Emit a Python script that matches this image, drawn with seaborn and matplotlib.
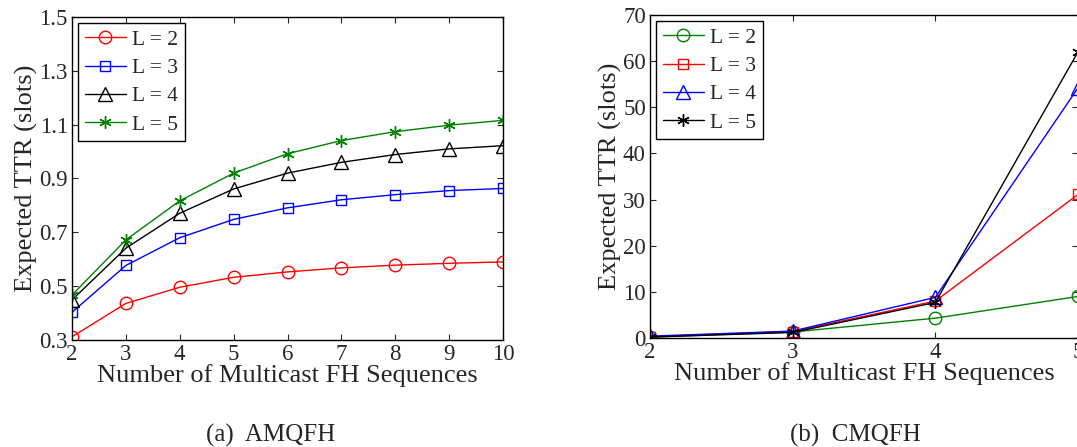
import numpy as np
import pandas as pd
import matplotlib
matplotlib.use("Agg")
import matplotlib.pyplot as plt
import seaborn as sns

# ---- data ----
x_a = [2, 3, 4, 5, 6, 7, 8, 9, 10]
a_L2 = [0.312, 0.436, 0.496, 0.533, 0.553, 0.568, 0.578, 0.585, 0.590]
a_L3 = [0.403, 0.577, 0.680, 0.748, 0.791, 0.821, 0.840, 0.855, 0.863]
a_L4 = [0.449, 0.641, 0.771, 0.861, 0.920, 0.960, 0.989, 1.010, 1.022]
a_L5 = [0.467, 0.672, 0.817, 0.920, 0.992, 1.041, 1.074, 1.098, 1.116]

x_b = [2, 3, 4, 5]
b_L2 = [0.2, 1.3, 4.3, 9.0]
b_L3 = [0.3, 1.4, 8.0, 31.1]
b_L4 = [0.4, 1.5, 8.8, 54.2]
b_L5 = [0.2, 1.2, 7.7, 62.0]

labels = ["L = 2", "L = 3", "L = 4", "L = 5"]
a_yticks = [0.3, 0.5, 0.7, 0.9, 1.1, 1.3, 1.5]
b_yticks = [0, 10, 20, 30, 40, 50, 60, 70]
xlabel = "Number of Multicast FH Sequences"
ylabel = "Expected TTR (slots)"
captions = ["(a)  AMQFH", "(b)  CMQFH"]

sns.set_style("ticks")
plt.rcParams['font.family'] = ['Liberation Serif', 'DejaVu Serif']
plt.rcParams['mathtext.fontset'] = 'stix'

fig = plt.figure(figsize=(10.77, 4.47), dpi=100)
ax1 = fig.add_axes([72/1077, 1-340/447, (503-72)/1077, (340-17)/447])
ax2 = fig.add_axes([650/1077, 1-338/447, (1078-650)/1077, (338-15)/447])

red, blue, black, green = (1, 0, 0), (0, 0, 1), (0, 0, 0), (0, 0.5, 0)
ast = (6, 2, 0)

def draw(ax, x, series, colors, markers, sizes):
    for ys, lab, c, m, s in zip(series, labels, colors, markers, sizes):
        df = pd.DataFrame({"x": x, "y": ys})
        sns.lineplot(data=df, x="x", y="y", ax=ax, color=c, marker=m,
                     markersize=s, mfc='none', mec=c, mew=1.0, lw=1.0,
                     label=lab)

draw(ax1, x_a, [a_L2, a_L3, a_L4, a_L5], [red, blue, black, green],
     ['o', 's', '^', ast], [9, 7, 10, 9])
draw(ax2, x_b, [b_L2, b_L3, b_L4, b_L5], [green, red, blue, black],
     ['o', 's', '^', ast], [9, 7, 10, 9])

ax1.set_xlim(2, 10)
ax1.set_ylim(0.3, 1.5)
ax1.set_xticks(x_a)
ax1.set_yticks(a_yticks)
ax1.set_yticklabels([f"{v:.1f}" for v in a_yticks])
ax2.set_xlim(2, 5)
ax2.set_ylim(0, 70)
ax2.set_xticks(x_b)
ax2.set_yticks(b_yticks)

for ax in (ax1, ax2):
    ax.tick_params(direction='in', top=True, right=True, length=4, width=0.8,
                   labelsize=16.5, pad=3)
    for sp in ax.spines.values():
        sp.set_linewidth(1.0)
        sp.set_color('black')
    ax.set_xlabel(xlabel, fontsize=19, labelpad=-1)
    ax.set_ylabel(ylabel, fontsize=19, labelpad=1)
    leg = ax.legend(loc='upper left', fontsize=15.5, frameon=True, fancybox=False,
                    edgecolor='black', framealpha=1, handlelength=1.9,
                    borderaxespad=0.3, labelspacing=0.38, handletextpad=0.3,
                    borderpad=0.3)
    leg.get_frame().set_linewidth(1.0)

fig.text(271/1077, 1-442/447, captions[0], ha='center', va='baseline', fontsize=18)
fig.text(855/1077, 1-442/447, captions[1], ha='center', va='baseline', fontsize=18)

fig.savefig("out.png", dpi=100, facecolor='white')
